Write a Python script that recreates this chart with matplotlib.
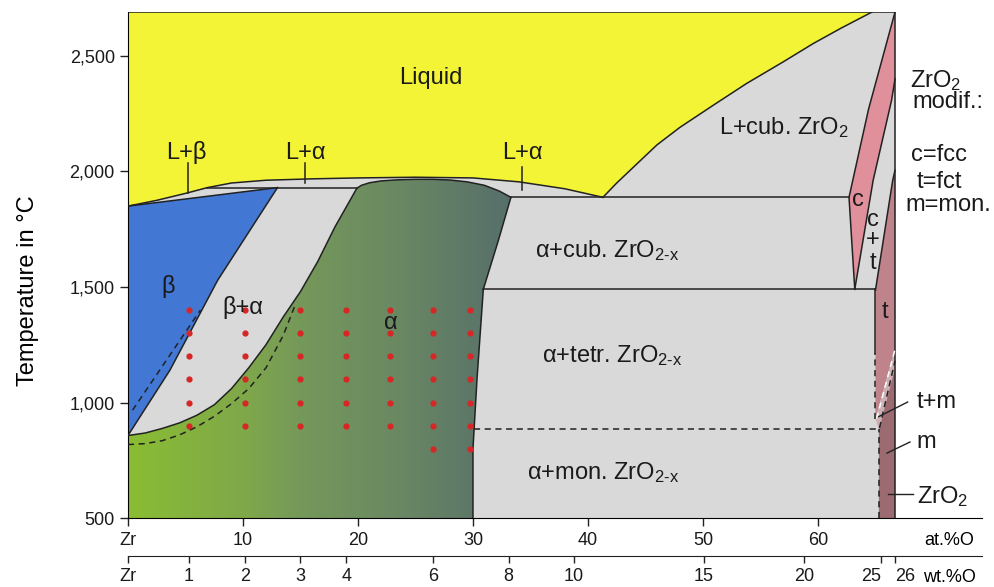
import numpy as np
import matplotlib.pyplot as plt
from matplotlib.patches import Polygon
from matplotlib.colors import LinearSegmentedColormap

plt.rcParams['font.family'] = ['Liberation Sans', 'DejaVu Sans']
plt.rcParams['mathtext.fontset'] = 'custom'
plt.rcParams['mathtext.rm'] = 'Liberation Sans'
plt.rcParams['mathtext.it'] = 'Liberation Sans:italic'

# ranges (at.% O / deg C)
x_zro2 = 66.7
t_min, t_max = 500, 2690

# phase boundaries
liq_x = [0, 2.5, 5, 6.9, 9, 12, 16, 20, 25, 30, 34, 38, 41.3]
liq_t = [1850, 1875, 1905, 1930, 1950, 1962, 1968, 1972, 1975, 1972, 1955, 1925, 1888]
liq2_x = [41.3, 42.5, 44.3, 46, 48.0, 51, 53.8, 57, 59.6, 62, 64.7]
liq2_t = [1888, 1950, 2035, 2115, 2191, 2290, 2381, 2475, 2554, 2620, 2690]

beta_top_x = [0, 13.0]
beta_top_t = [1850, 1930]
beta_r_x = [0, 3.65, 7.8, 13.0]
beta_r_t = [857, 1140, 1529, 1930]

alpha_l_x = [0, 1.5, 3, 4.5, 6, 7.5, 9, 10.5, 12, 13.5, 15, 16.5, 18, 19.9]
alpha_l_t = [857, 868, 888, 912, 945, 990, 1060, 1150, 1250, 1370, 1480, 1610, 1760, 1927]
dome_x = [19.9, 20.3, 21, 22, 23.5, 25, 26.5, 28, 29.5, 31, 32.3, 33.3]
dome_t = [1927, 1940, 1951, 1959, 1964, 1966, 1966, 1963, 1955, 1940, 1915, 1888]
alpha_r_x = [33.3, 32.2, 30.9, 30.35, 30.0, 30.0]
alpha_r_t = [1888, 1700, 1490, 1100, 800, 500]

perit_x = [6.9, 19.9]
perit_t = [1930, 1930]
eut_x = [33.3, 62.7]
eut_t = [1888, 1888]
tetr_x = [30.9, 65.0]
tetr_t = [1490, 1490]
mon_x = [30.1, 65.3]
mon_t = [885, 885]

c_x = [66.7, 64.4, 62.7, 63.2, 64.8, 66.4, 66.7]
c_t = [2690, 2270, 1888, 1490, 1962, 2308, 2400]
t_x = [66.7, 66.5, 65.0, 65.0, 66.7]
t_t = [2005, 1962, 1486, 930, 1230]
tm_x = [65.0, 65.3, 66.7, 66.7]
tm_t = [930, 880, 1150, 1230]
m_x = [65.3, 65.3, 66.7, 66.7]
m_t = [500, 880, 1150, 500]

dash1_x = [0.4, 6.3]
dash1_t = [967, 1400]
dash2_x = [0, 1.5, 3, 4.5, 6, 7.5, 9, 10.5, 12, 13.5, 14.6]
dash2_t = [818, 822, 835, 860, 895, 940, 995, 1060, 1150, 1290, 1430]

# sample points (wt.% 1..7)
dot_x = [5.3, 10.2, 15.0, 19.0, 22.8, 26.5, 29.7]
dot_t_short = [900, 1000, 1100, 1200, 1300, 1400]
dot_t_long = [800, 900, 1000, 1100, 1200, 1300, 1400]

at_ticks = [0, 10, 20, 30, 40, 50, 60]
at_labels = ['Zr', '10', '20', '30', '40', '50', '60']
wt_pos = [0, 5.3, 10.2, 15.0, 19.0, 26.5, 33.1, 38.8, 50.1, 58.8, 65.5, 66.7]
wt_labels = ['Zr', '1', '2', '3', '4', '6', '8', '10', '15', '20', '25', '26']
t_ticks = [500, 1000, 1500, 2000, 2500]
t_labels = ['500', '1,000', '1,500', '2,000', '2,500']

yellow = '#F4F437'
blue = '#4278D4'
gray = '#D9D9D9'

fig = plt.figure(figsize=(9.95, 5.87), dpi=100)
ax = fig.add_axes([0.1286, 0.1175, 0.8583, 0.862])

ax.add_patch(Polygon([(0, t_min), (0, t_max), (x_zro2, t_max), (x_zro2, t_min)],
                     closed=True, fc=gray, ec='none', zorder=0))
liquid = [(0, t_max), (x_zro2, t_max)] + list(zip(liq2_x, liq2_t))[::-1] + list(zip(liq_x, liq_t))[::-1]
ax.add_patch(Polygon(liquid, closed=True, fc=yellow, ec='none', zorder=1))
beta = list(zip(beta_r_x, beta_r_t))[::-1] + [(0, 857), (0, 1850)]
ax.add_patch(Polygon(beta, closed=True, fc=blue, ec='none', zorder=1))

alpha_poly = (list(zip(alpha_l_x, alpha_l_t)) + list(zip(dome_x, dome_t))
              + list(zip(alpha_r_x, alpha_r_t)) + [(0, 500)])
patch = Polygon(alpha_poly, closed=True, fc='none', ec='none', zorder=1)
ax.add_patch(patch)
green = LinearSegmentedColormap.from_list(
    'g', [(0, '#8ABD33'), (0.3, '#7FA84A'), (0.45, '#75985A'), (0.68, '#6B8A62'), (1, '#566E6B')])
im = ax.imshow(np.linspace(0, 1, 256).reshape(1, -1), extent=(0, 33.5, 500, 2000),
               aspect='auto', cmap=green, origin='lower', zorder=1)
im.set_clip_path(patch)

ax.add_patch(Polygon(list(zip(c_x, c_t)), closed=True, fc='#E0909A', ec='none', zorder=1))
ax.add_patch(Polygon(list(zip(t_x, t_t)), closed=True, fc='#BE838B', ec='none', zorder=1))
ax.add_patch(Polygon(list(zip(tm_x, tm_t)), closed=True, fc='#CDB0B3', ec='none', zorder=1))
ax.add_patch(Polygon(list(zip(m_x, m_t)), closed=True, fc='#9C6B72', ec='none', zorder=1))

lk = dict(color='#222222', lw=1.1, zorder=3)
ax.plot(liq_x, liq_t, **lk)
ax.plot(liq2_x, liq2_t, **lk)
ax.plot(beta_top_x, beta_top_t, **lk)
ax.plot(beta_r_x, beta_r_t, **lk)
ax.plot(alpha_l_x, alpha_l_t, **lk)
ax.plot(dome_x, dome_t, **lk)
ax.plot(alpha_r_x, alpha_r_t, **lk)
ax.plot(perit_x, perit_t, **lk)
ax.plot(eut_x, eut_t, **lk)
ax.plot(tetr_x, tetr_t, **lk)
ax.plot(c_x[:4], c_t[:4], **lk)
ax.plot(c_x[3:], c_t[3:], **lk)
ax.plot(t_x[:3], t_t[:3], **lk)
ax.plot([65.0, 65.0], [1490, 1214], **lk)
ax.plot([0, x_zro2, x_zro2], [t_max, t_max, t_min], **lk)

dk = dict(color='#222222', lw=1.1, ls=(0, (4, 3)), zorder=3)
ax.plot(dash1_x, dash1_t, **dk)
ax.plot(dash2_x, dash2_t, **dk)
ax.plot(mon_x, mon_t, **dk)
ax.plot([65.3, 65.3], [500, 885], **dk)
ax.plot([65.0, 65.0], [930, 1214], **dk)
ax.plot([65.35, 66.7], [890, 1180], **dk)
ax.plot([65.1, 66.7], [930, 1230], color='white', lw=1.1, ls=(0, (4, 3)), zorder=3)

# sample points
for i, x in enumerate(dot_x):
    rows = dot_t_long if i >= 5 else dot_t_short
    ax.plot([x] * len(rows), rows, 'o', color='#D62626', ms=4.5, mec='none', zorder=4)

# leader ticks
ax.plot([5.2, 5.2], [1906, 2035], **lk)
ax.plot([15.4, 15.4], [1949, 2035], **lk)
ax.plot([34.3, 34.3], [1919, 2018], **lk)
ax.plot([65.2, 67.8], [937, 1002], color='#222222', lw=1, clip_on=False)
ax.plot([66.0, 68.0], [781, 829], color='#222222', lw=1, clip_on=False)
ax.plot([66.1, 68.3], [604, 604], color='#222222', lw=1, clip_on=False)

fs = 17
tk = dict(fontsize=fs, ha='center', va='center', zorder=5, color='#1a1a1a')
ax.text(26.3, 2403, 'Liquid', **tk)
ax.text(5.1, 2080, 'L+β', **tk)
ax.text(15.4, 2080, 'L+α', **tk)
ax.text(34.3, 2080, 'L+α', **tk)
ax.text(57.0, 2191, 'L+cub. ZrO$_2$', **tk)
ax.text(41.7, 1659, r'α+cub. ZrO$_{\text{2-x}}$', **tk)
ax.text(42.1, 1205, r'α+tetr. ZrO$_{\text{2-x}}$', **tk)
ax.text(41.3, 695, r'α+mon. ZrO$_{\text{2-x}}$', **tk)
ax.text(3.5, 1500, 'β', **tk)
ax.text(10.0, 1413, 'β+α', **tk)
ax.text(22.9, 1343, 'α', **tk)
ax.text(63.5, 1875, 'c', **tk)
ax.text(64.8, 1789, 'c', **tk)
ax.text(64.8, 1702, '+', **tk)
ax.text(64.8, 1603, 't', **tk)
ax.text(65.8, 1391, 't', **tk)

rk = dict(fontsize=fs, va='center', ha='center', color='#1a1a1a', clip_on=False)
ax.text(70.2, 2394, 'ZrO$_2$', **rk)
ax.text(71.3, 2299, 'modif.:', **rk)
ax.text(70.5, 2070, 'c=fcc', **rk)
ax.text(70.6, 1953, 't=fct', **rk)
ax.text(71.3, 1854, 'm=mon.', **rk)
lk2 = dict(fontsize=fs, va='center', ha='left', color='#1a1a1a', clip_on=False)
ax.text(68.6, 1002, 't+m', **lk2)
ax.text(68.6, 829, 'm', **lk2)
ax.text(68.6, 591, 'ZrO$_2$', **lk2)

ax.set_xlim(0, (982 - 128) / 11.5)
ax.set_ylim(t_min, t_max)
ax.spines['top'].set_visible(False)
ax.spines['right'].set_visible(False)
ax.set_xticks(at_ticks, at_labels)
ax.set_yticks(t_ticks, t_labels)
ax.tick_params(labelsize=13, length=6, width=1, colors='#222222', labelcolor='#1a1a1a')
ax.tick_params(axis='x', pad=4)

sec = ax.secondary_xaxis(-0.075)
sec.set_xticks(wt_pos, wt_labels)
sec.tick_params(labelsize=13, length=5, width=1, colors='#222222', labelcolor='#1a1a1a')
sec.spines['bottom'].set_color('#222222')
wl = sec.get_xticklabels()
wl[-2].set_ha('right')
wl[-1].set_ha('left')

ax.text(0.962, -0.045, 'at.%O', transform=ax.transAxes, fontsize=13, ha='center', va='center')
ax.text(0.962, -0.117, 'wt.%O', transform=ax.transAxes, fontsize=13, ha='center', va='center')
fig.text(0.028, 0.505, 'Temperature in °C', rotation=90, fontsize=17, ha='center', va='center')

fig.savefig('out.png', dpi=100)
